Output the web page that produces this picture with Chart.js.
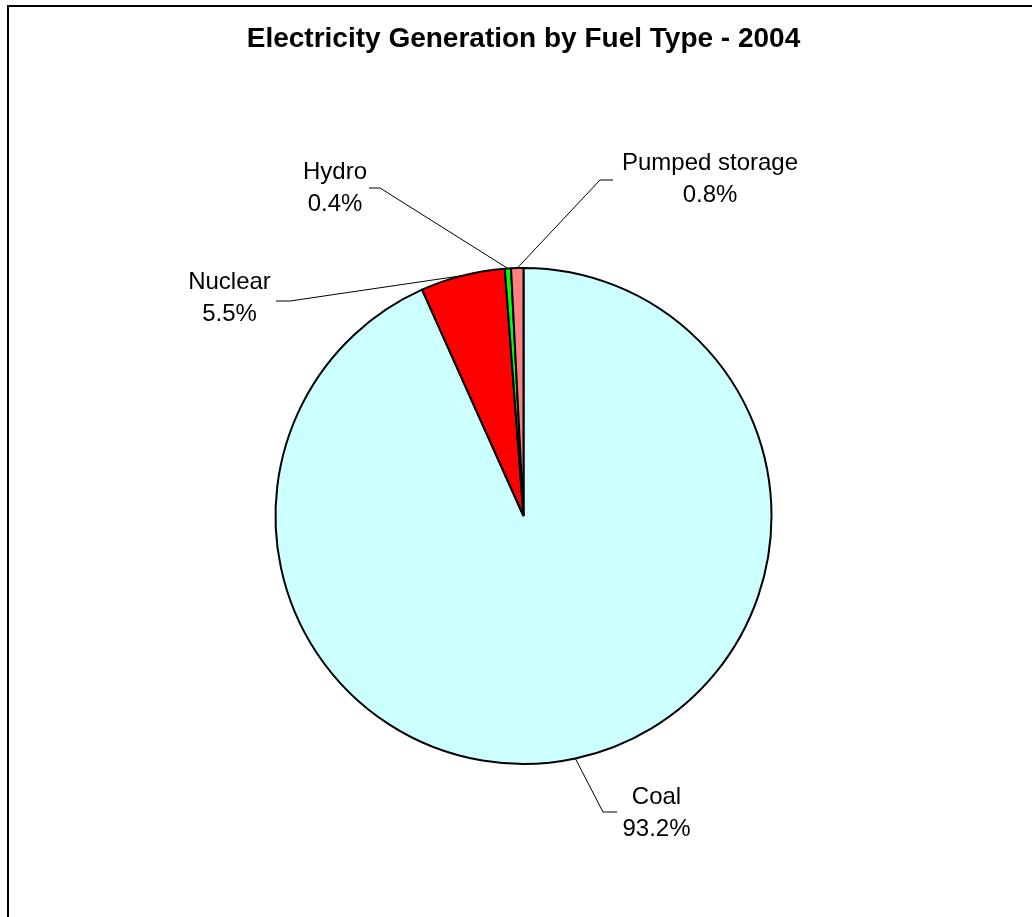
<!DOCTYPE html>
<html>
<head>
<meta charset="utf-8">
<script src="https://cdn.jsdelivr.net/npm/chart.js@4.4.0/dist/chart.umd.min.js"></script>
<style>
  html, body { margin: 0; padding: 0; background: #ffffff; }
  #wrap { width: 1032px; height: 917px; position: relative; }
</style>
</head>
<body>
<div id="wrap"><canvas id="c" width="1032" height="917"></canvas></div>
<script>
// ---- data (clockwise from 12 o'clock) ----
const categories = ["Coal", "Nuclear", "Hydro", "Pumped storage"];
const shares = [93.2, 5.5, 0.4, 0.8];
const shareLabels = ["93.2%", "5.5%", "0.4%", "0.8%"];
const sliceColors = ["#CCFFFF", "#FF0000", "#00FF00", "#FF8080"];
const titleText = "Electricity Generation by Fuel Type - 2004";

// ---- label layout (offsets from pie centre, px) ----
const labelLayout = [
  { tx: 133, ty: 288, ex: 79.5, ey: 296, hx: 93.5 },    // Coal
  { tx: -294, ty: -227, ex: -233.5, ey: -215, hx: -247.5 }, // Nuclear
  { tx: -188.5, ty: -337, ex: -143.5, ey: -328, hx: -154.5 }, // Hydro
  { tx: 186.5, ty: -346, ex: 76.5, ey: -336, hx: 89.5 }   // Pumped storage
];
const LINE_GAP = 32;
const LABEL_FONT = '24px "Liberation Sans", Arial, sans-serif';

const decor = {
  id: 'decor',
  beforeDraw(chart) {
    const ctx = chart.ctx;
    ctx.save();
    ctx.fillStyle = '#000';
    ctx.fillRect(7, 5, 2, chart.height - 5);
    ctx.fillRect(7, 5, chart.width - 7, 2);
    ctx.restore();
  },
  afterDatasetsDraw(chart) {
    const ctx = chart.ctx;
    const meta = chart.getDatasetMeta(0);
    ctx.save();
    meta.data.forEach((arc, i) => {
      const p = arc.getProps(['x', 'y', 'startAngle', 'endAngle', 'outerRadius'], true);
      const mid = (p.startAngle + p.endAngle) / 2;
      const px = p.x + Math.cos(mid) * p.outerRadius;
      const py = p.y + Math.sin(mid) * p.outerRadius;
      const L = labelLayout[i];
      ctx.strokeStyle = '#000';
      ctx.lineWidth = 1;
      ctx.beginPath();
      ctx.moveTo(px, py);
      ctx.lineTo(p.x + L.ex, p.y + L.ey);
      ctx.lineTo(p.x + L.hx, p.y + L.ey);
      ctx.stroke();
      ctx.fillStyle = '#000';
      ctx.font = LABEL_FONT;
      ctx.textAlign = 'center';
      ctx.textBaseline = 'alphabetic';
      ctx.fillText(categories[i], p.x + L.tx, p.y + L.ty);
      ctx.fillText(shareLabels[i], p.x + L.tx, p.y + L.ty + LINE_GAP);
    });
    ctx.restore();
  }
};

new Chart(document.getElementById('c'), {
  type: 'pie',
  data: {
    labels: categories,
    datasets: [{
      data: shares,
      backgroundColor: sliceColors,
      borderColor: '#000000',
      borderWidth: 2
    }]
  },
  options: {
    responsive: false,
    animation: false,
    radius: 248,
    layout: { padding: { left: 15, right: 0, top: 0, bottom: 0 } },
    plugins: {
      legend: { display: false },
      tooltip: { enabled: false },
      title: {
        display: true,
        text: titleText,
        color: '#000',
        font: { family: '"Liberation Sans", Arial, sans-serif', size: 28, weight: 'bold', lineHeight: 1.2 },
        padding: { top: 22.8, bottom: 58.6 }
      }
    }
  },
  plugins: [decor]
});
</script>
</body>
</html>
